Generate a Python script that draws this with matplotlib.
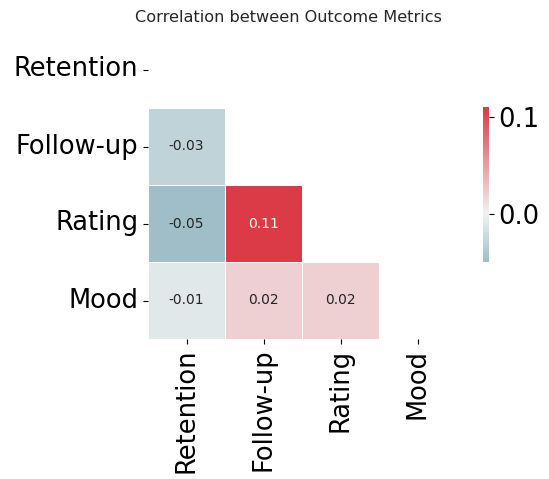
import numpy as np
import pandas as pd
import matplotlib
matplotlib.use('Agg')
import matplotlib.pyplot as plt
import seaborn as sns

# Outcome metrics and their pairwise correlations (lower triangle)
metrics = ['Retention', 'Follow-up', 'Rating', 'Mood']
corr_values = [
    [1.00, -0.03, -0.05, -0.01],
    [-0.03, 1.00, 0.11, 0.02],
    [-0.05, 0.11, 1.00, 0.02],
    [-0.01, 0.02, 0.02, 1.00],
]
cbar_ticks = [0.0, 0.1]

corr = pd.DataFrame(corr_values, index=metrics, columns=metrics)
mask = np.triu(np.ones_like(corr, dtype=bool))

W, H = 549, 479
fig = plt.figure(figsize=(W / 100, H / 100), dpi=100)
ax = fig.add_axes([148 / W, (H - 339) / H, 308 / W, 308 / H])
cax = fig.add_axes([483 / W, (H - 262) / H, 6 / W, 155 / H])

cmap = sns.diverging_palette(220, 10, as_cmap=True)
sns.heatmap(corr, mask=mask, cmap=cmap, center=0, annot=True, fmt='.2f',
            linewidths=0.5, square=True, ax=ax, cbar_ax=cax,
            annot_kws={'fontsize': 10})

ax.tick_params(axis='both', labelsize=18.5)
ax.set_xticklabels(metrics, rotation=90)
ax.set_yticklabels(metrics, rotation=0)

cax.set_yticks(cbar_ticks)
cax.tick_params(labelsize=18.5)

fig.text(288 / W, 1 - 17 / H, 'Correlation between Outcome Metrics',
         ha='center', va='center', fontsize=11.6, color='#262626')

fig.savefig('out.png', dpi=100)
